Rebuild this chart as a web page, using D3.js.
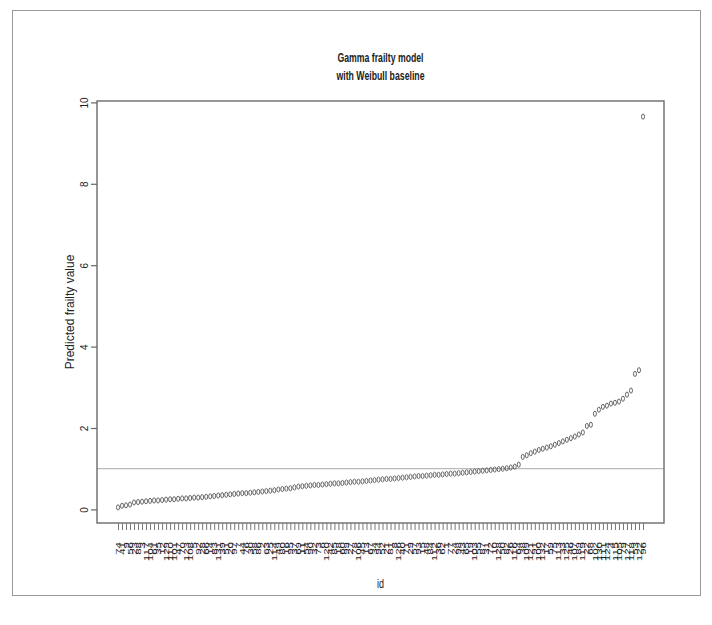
<!DOCTYPE html>
<html>
<head>
<meta charset="utf-8">
<script src="https://cdn.jsdelivr.net/npm/d3@7"></script>
<style>
  body { margin: 0; background: #fff; }
  svg text { font-family: "Liberation Sans", Arial, sans-serif; fill: #222; }
</style>
</head>
<body>
<div id="chart"></div>
<script>
// cluster ids, in order of predicted frailty (x axis)
const ids = [74, 41, 9, 56, 23, 88, 3, 117, 104, 61, 35, 12, 129, 110, 101, 47, 70, 123, 108, 5,
  92, 28, 66, 14, 83, 131, 39, 51, 20, 97, 7, 44, 76, 30, 58, 86, 2, 63, 25, 114,
  49, 80, 16, 95, 37, 69, 11, 54, 90, 32, 73, 6, 120, 42, 85, 18, 60, 99, 27, 78,
  106, 45, 13, 67, 34, 94, 52, 21, 81, 8, 126, 40, 71, 29, 57, 93, 15, 48, 84, 112,
  36, 62, 1, 77, 24, 98, 43, 65, 19, 103, 55, 87, 31, 72, 10, 128, 50, 82, 26, 116,
  64, 38, 109, 121, 91, 100, 132, 17, 59, 75, 113, 33, 125, 46, 107, 89, 119, 22, 68, 102,
  130, 111, 124, 4, 115, 105, 79, 127, 118, 53, 122, 96];

// predicted frailty values (sorted)
const frailty = [0.05, 0.09, 0.10, 0.12,
  0.17, 0.18, 0.19, 0.20, 0.21, 0.22, 0.22, 0.23, 0.24, 0.25, 0.25, 0.26, 0.27, 0.27, 0.28, 0.29, 0.29,
  0.30, 0.31, 0.32, 0.33, 0.34, 0.35, 0.36, 0.37, 0.38, 0.39, 0.40, 0.40, 0.41, 0.42, 0.43, 0.44, 0.45, 0.46, 0.47, 0.49,
  0.50, 0.51, 0.52, 0.54, 0.56, 0.57, 0.58, 0.59, 0.60, 0.60, 0.61, 0.62, 0.63, 0.64, 0.64, 0.65, 0.66, 0.67, 0.68, 0.68,
  0.69, 0.70, 0.71, 0.72, 0.73,
  0.74, 0.75, 0.75, 0.76, 0.77, 0.78, 0.79, 0.80, 0.81, 0.82, 0.82, 0.83, 0.84, 0.85, 0.85, 0.86, 0.87, 0.88, 0.88, 0.89,
  0.90, 0.91, 0.92, 0.93, 0.94, 0.95, 0.96, 0.97, 0.98, 0.99, 1.00, 1.01, 1.03, 1.05, 1.10,
  1.29, 1.33, 1.38, 1.42, 1.46, 1.49, 1.52, 1.55, 1.59, 1.63, 1.67, 1.71, 1.75, 1.79, 1.84, 1.89,
  2.05, 2.08,
  2.35, 2.45, 2.52, 2.55, 2.60, 2.62, 2.65, 2.72, 2.82, 2.92, 3.33, 3.42, 9.65];

const yTicks = [0, 2, 4, 6, 8, 10];
const refLine = 1;

const data = ids.map((id, i) => ({ id: String(id), value: frailty[i] }));

const
  width = 712, height = 625,
  margin = { top: 101, right: 48, bottom: 102, left: 97 },
  innerWidth = width - margin.left - margin.right,
  innerHeight = height - margin.top - margin.bottom;

const svg = d3.select("#chart").append("svg")
  .attr("width", width)
  .attr("height", height);

// outer frame
svg.append("rect")
  .attr("x", 12.5).attr("y", 10.5)
  .attr("width", 688).attr("height", 585)
  .attr("fill", "none")
  .attr("stroke", "#999")
  .attr("stroke-width", 1);

const mainG = svg.append("g")
  .attr("transform", `translate(${margin.left},${margin.top})`);

// R style 4% padding
const pad = innerWidth * 0.04 / 1.08;
const xScale = d3.scalePoint()
  .domain(data.map(d => d.id))
  .range([pad, innerWidth - pad]);

const yMin = d3.min(frailty), yMax = d3.max(frailty), ext = (yMax - yMin) * 0.04;
const yScale = d3.scaleLinear()
  .domain([yMin - ext, yMax + ext])
  .range([innerHeight, 0]);

// reference line at 1
mainG.append("line")
  .attr("x1", 0).attr("x2", innerWidth)
  .attr("y1", yScale(refLine)).attr("y2", yScale(refLine))
  .attr("stroke", "#bbb")
  .attr("stroke-width", 1.2);

// points
mainG.selectAll("ellipse")
  .data(data)
  .enter()
  .append("ellipse")
  .attr("cx", d => xScale(d.id))
  .attr("cy", d => yScale(d.value))
  .attr("rx", 1.5)
  .attr("ry", 2.6)
  .attr("fill", "none")
  .attr("stroke", "#555")
  .attr("stroke-width", 0.9);

// box
mainG.append("rect")
  .attr("width", innerWidth).attr("height", innerHeight)
  .attr("fill", "none")
  .attr("stroke", "#6b6b6b")
  .attr("stroke-width", 1.4);

// y axis
const yAxis = d3.axisLeft(yScale).tickValues(yTicks).tickSize(6).tickFormat(d3.format("d"));
const yG = mainG.append("g").call(yAxis);
yG.select(".domain").remove();
yG.selectAll(".tick line").attr("stroke", "#666").attr("stroke-width", 1.2);
yG.selectAll(".tick text")
  .attr("x", null).attr("dy", null)
  .attr("transform", "translate(-9,0) rotate(-90)")
  .attr("text-anchor", "middle")
  .style("font-size", "10px")
  .attr("fill", "#333");

// x axis, labels perpendicular to the axis
const xAxis = d3.axisBottom(xScale).tickSize(7);
const xG = mainG.append("g")
  .attr("transform", `translate(0,${innerHeight})`)
  .call(xAxis);
xG.select(".domain").remove();
xG.selectAll(".tick line").attr("stroke", "#777").attr("stroke-width", 1);
xG.selectAll(".tick text")
  .attr("x", 0).attr("y", 0).attr("dy", "0.32em")
  .attr("text-anchor", "end")
  .attr("transform", "translate(0,19) rotate(-90)")
  .attr("textLength", d => d.length * 6.4)
  .attr("lengthAdjust", "spacingAndGlyphs")
  .style("font-size", "6.5px")
  .attr("fill", "#333");

// titles
const title = svg.append("g").attr("class", "title");
title.append("text")
  .attr("x", 380.5 - 43).attr("y", 62)
  .attr("textLength", 86).attr("lengthAdjust", "spacingAndGlyphs")
  .style("font-size", "12.5px").style("font-weight", "bold")
  .text("Gamma frailty model");
title.append("text")
  .attr("x", 380.5 - 44).attr("y", 80)
  .attr("textLength", 88).attr("lengthAdjust", "spacingAndGlyphs")
  .style("font-size", "12.5px").style("font-weight", "bold")
  .text("with Weibull baseline");

svg.append("text")
  .attr("x", 377).attr("y", 588)
  .attr("textLength", 7).attr("lengthAdjust", "spacingAndGlyphs")
  .style("font-size", "12px")
  .text("id");

svg.append("text")
  .attr("transform", `translate(74,${margin.top + innerHeight / 2}) rotate(-90)`)
  .attr("text-anchor", "middle")
  .style("font-size", "12px")
  .attr("fill", "#333")
  .text("Predicted frailty value");
</script>
</body>
</html>
